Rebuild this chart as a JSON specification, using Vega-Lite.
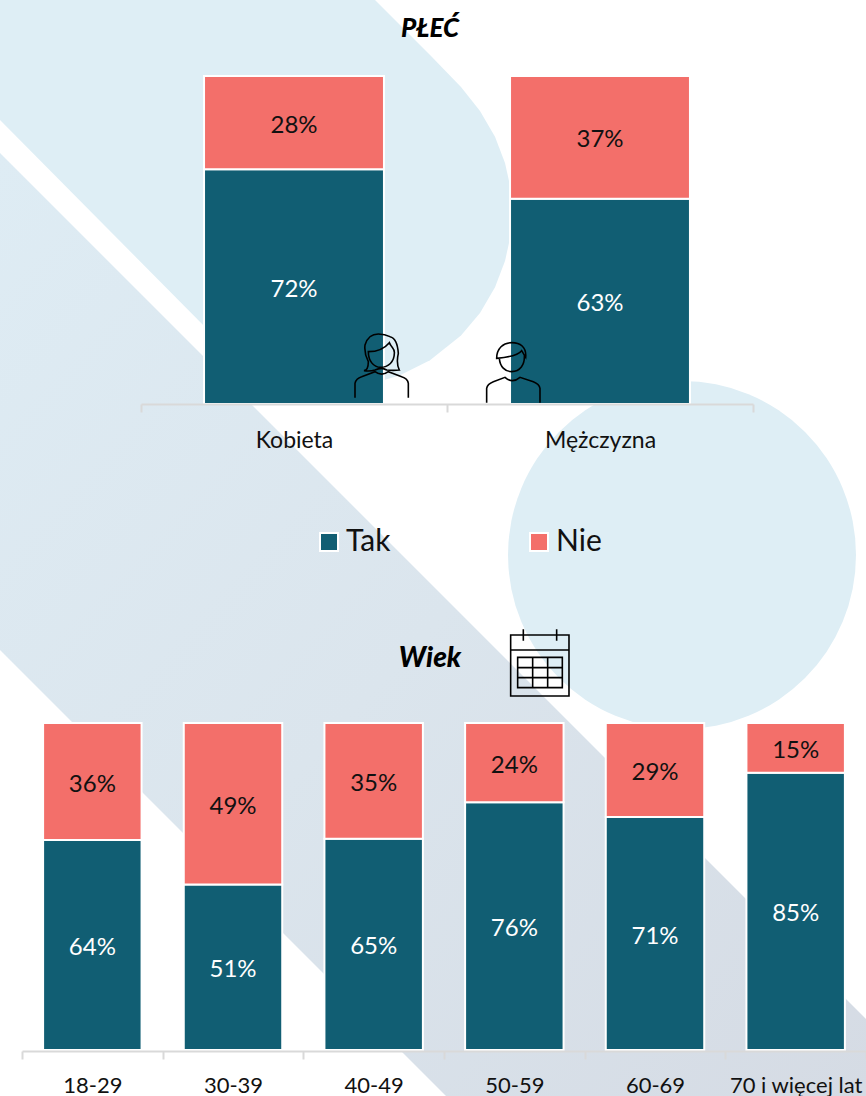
{
"$schema":"https://vega.github.io/schema/vega-lite/v6.json",
"width":866,"height":1096,"padding":0,"autosize":"none","background":"white",
"config":{"view":{"stroke":null},"font":"Lato"},
"datasets":{
"plec":[{"grupa":"Kobieta","odp":"Tak","pct":0.716},{"grupa":"Kobieta","odp":"Nie","pct":0.284},{"grupa":"Mężczyzna","odp":"Tak","pct":0.626},{"grupa":"Mężczyzna","odp":"Nie","pct":0.374}],
"wiek":[{"grupa":"18-29","odp":"Tak","pct":0.642},{"grupa":"18-29","odp":"Nie","pct":0.358},{"grupa":"30-39","odp":"Tak","pct":0.506},{"grupa":"30-39","odp":"Nie","pct":0.494},{"grupa":"40-49","odp":"Tak","pct":0.646},{"grupa":"40-49","odp":"Nie","pct":0.354},{"grupa":"50-59","odp":"Tak","pct":0.758},{"grupa":"50-59","odp":"Nie","pct":0.242},{"grupa":"60-69","odp":"Tak","pct":0.7125},{"grupa":"60-69","odp":"Nie","pct":0.2875},{"grupa":"70 i więcej lat","odp":"Tak","pct":0.848},{"grupa":"70 i więcej lat","odp":"Nie","pct":0.152}],
"pasA":[{"x":0,"g":0,"d":120},{"x":213,"g":0,"d":335},{"x":240,"g":0,"d":357.7},{"x":270,"g":0,"d":373.7},{"x":300,"g":0,"d":383},{"x":337,"g":0,"d":387},{"x":370,"g":0,"d":383.9},{"x":375,"g":0,"d":382.8},{"x":400,"g":25,"d":375.3},{"x":430,"g":55,"d":360.2},{"x":461,"g":87,"d":335.5},{"x":480,"g":111.1,"d":312.9},{"x":495,"g":136.8,"d":287.2},{"x":505,"g":163,"d":261},{"x":510,"g":185.6,"d":238.4},{"x":512,"g":212,"d":212}],
"pasB":[{"x":0,"g":153,"d":650},{"x":446,"g":599,"d":1096},{"x":866,"g":1019,"d":1096}],
"kolo":[{"x":682,"y":555}],
"ikony":[{"x":340,"y":320},{"x":380,"y":620}]
},
"layer":[
{"encoding":{"x":{"field":"x","type":"quantitative","scale":{"domain":[0,866],"range":[0,866]},"axis":null},"y":{"field":"g","type":"quantitative","scale":{"domain":[0,1096],"range":[0,1096]},"axis":null},"y2":{"field":"d"}},
"layer":[
{"data":{"name":"pasA"},"mark":{"type":"area","orient":"vertical","fill":"#deeef5"}},
{"data":{"name":"kolo"},"mark":{"type":"point","filled":true,"fill":"#deeef5","opacity":1,"size":121104,"strokeWidth":0},"encoding":{"y":{"field":"y","type":"quantitative","scale":{"domain":[0,1096],"range":[0,1096]},"axis":null},"y2":null}},
{"data":{"name":"pasB"},"mark":{"type":"area","orient":"vertical","fill":{"gradient":"linear","x1":0,"y1":0,"x2":1,"y2":1,"stops":[{"offset":0,"color":"#deecf4"},{"offset":0.5,"color":"#dbe5ed"},{"offset":1,"color":"#d5dbe4"}]}}}
]},
{"data":{"name":"plec"},
"encoding":{"x":{"field":"grupa","type":"nominal","sort":null,"scale":{"range":[141,753],"paddingInner":0,"paddingOuter":0},"axis":{"title":null,"orient":"bottom","offset":-692,"zindex":1,"labelAngle":0,"labelFontSize":23,"labelColor":"#111","labelPadding":17,"labelFont":"Lato","domainColor":"#d9d9d9","domainWidth":2,"tickColor":"#d9d9d9","tickWidth":2,"tickSize":8,"tickBand":"extent","grid":false}},
"y":{"field":"pct","type":"quantitative","stack":"zero","scale":{"domain":[0,1],"range":[404,76],"nice":false,"zero":false},"axis":null},
"detail":{"field":"odp"},
"order":{"field":"odp","sort":"descending"}},
"layer":[
{"mark":{"type":"bar","stroke":"white","strokeWidth":2,"width":{"band":0.588}},"encoding":{"color":{"field":"odp","type":"nominal","scale":{"domain":["Tak","Nie"],"range":["#115e73","#f36f6a"]},"legend":{"title":null,"orient":"none","legendX":314,"legendY":527,"direction":"horizontal","columns":2,"columnPadding":133,"symbolType":"square","symbolSize":324,"symbolStrokeColor":"white","symbolStrokeWidth":2,"symbolOpacity":1,"labelFontSize":30,"labelColor":"#111","labelFont":"Lato","labelOffset":2,"offset":0}}}},
{"mark":{"type":"text","fontSize":24,"font":"Lato","baseline":"middle","dy":3},"encoding":{"y":{"field":"pct","type":"quantitative","stack":"zero","bandPosition":0.5,"scale":{"domain":[0,1],"range":[404,76],"nice":false,"zero":false},"axis":null},"text":{"field":"pct","type":"quantitative","format":".0%"},"color":{"condition":{"test":"datum.odp==='Tak'","value":"white"},"value":"#111"}}}
]},
{"data":{"name":"wiek"},
"encoding":{"x":{"field":"grupa","type":"nominal","sort":null,"scale":{"range":[22,866],"paddingInner":0,"paddingOuter":0},"axis":{"title":null,"orient":"bottom","offset":-45,"zindex":1,"labelAngle":0,"labelFontSize":22,"labelColor":"#111","labelPadding":16,"labelFont":"Lato","domainColor":"#d9d9d9","domainWidth":2,"tickColor":"#d9d9d9","tickWidth":2,"tickSize":8,"tickBand":"extent","grid":false}},
"y":{"field":"pct","type":"quantitative","stack":"zero","scale":{"domain":[0,1],"range":[1050,723],"nice":false,"zero":false},"axis":null},
"detail":{"field":"odp"},
"order":{"field":"odp","sort":"descending"}},
"layer":[
{"mark":{"type":"bar","stroke":"white","strokeWidth":2,"width":{"band":0.7}},"encoding":{"color":{"field":"odp","type":"nominal","scale":{"domain":["Tak","Nie"],"range":["#115e73","#f36f6a"]}}}},
{"mark":{"type":"text","fontSize":24,"font":"Lato","baseline":"middle","dy":3},"encoding":{"y":{"field":"pct","type":"quantitative","stack":"zero","bandPosition":0.5,"scale":{"domain":[0,1],"range":[1050,723],"nice":false,"zero":false},"axis":null},"text":{"field":"pct","type":"quantitative","format":".0%"},"color":{"condition":{"test":"datum.odp==='Tak'","value":"white"},"value":"#111"}}}
]},
{"encoding":{"x":{"field":"x","type":"quantitative","scale":{"domain":[0,866],"range":[0,866]},"axis":null},"y":{"field":"y","type":"quantitative","scale":{"domain":[0,1096],"range":[0,1096]},"axis":null}},
"layer":[
{"data":{"name":"ikony"},"transform":[{"filter":"datum.y===320"}],"mark":{"type":"point","size":0.4444,"filled":false,"stroke":"black","strokeWidth":1.6,"opacity":1,"shape":"M45,233L45,190Q48,175 65,170L105,155Q125,170 145,155L185,170Q203,175 205,190L205,233M72,152Q85,150 85,125Q72,100 75,75Q85,42 115,42Q135,42 150,50Q172,55 175,100Q168,130 178,150Q160,152 140,150Q125,140 105,150Q90,155 72,152ZM85,95C110,95 130,90 148,68C155,85 165,85 163,100C163,125 145,142 122,142C100,142 85,122 85,95ZM440,248L440,205Q442,192 460,185L495,172Q517,192 540,172L580,185Q598,192 600,205L600,248M470,115C470,85 490,68 515,68C540,68 560,80 557,112L545,92C535,105 505,112 470,115ZM478,115C480,140 495,155 515,155C540,155 555,135 553,105"}},
{"data":{"name":"ikony"},"transform":[{"filter":"datum.y===620"}],"mark":{"type":"point","size":0.4444,"filled":false,"stroke":"black","strokeWidth":1.6,"opacity":1,"shape":"M392,45H567V228H392ZM392,90H567M430,28V62M530,28V62M413,112H547V203H413ZM413,143H547M413,173H547M458,112V203M503,112V203"}}
]},
{"data":{"values":[{"tytul":"PŁEĆ"}]},"mark":{"type":"text","fontSize":26,"fontWeight":900,"fontStyle":"italic","font":"Lato","color":"black","baseline":"middle"},"encoding":{"text":{"field":"tytul"},"x":{"datum":430,"type":"quantitative","scale":{"domain":[0,866],"range":[0,866]},"axis":null},"y":{"datum":29,"type":"quantitative","scale":{"domain":[0,1096],"range":[0,1096]},"axis":null}}},
{"data":{"values":[{"tytul":"Wiek"}]},"mark":{"type":"text","fontSize":28,"fontWeight":900,"fontStyle":"italic","font":"Lato","color":"black","baseline":"middle"},"encoding":{"text":{"field":"tytul"},"x":{"datum":430,"type":"quantitative","scale":{"domain":[0,866],"range":[0,866]},"axis":null},"y":{"datum":659,"type":"quantitative","scale":{"domain":[0,1096],"range":[0,1096]},"axis":null}}}
],
"resolve":{"scale":{"x":"independent","y":"independent"},"axis":{"x":"independent","y":"independent"}}
}
